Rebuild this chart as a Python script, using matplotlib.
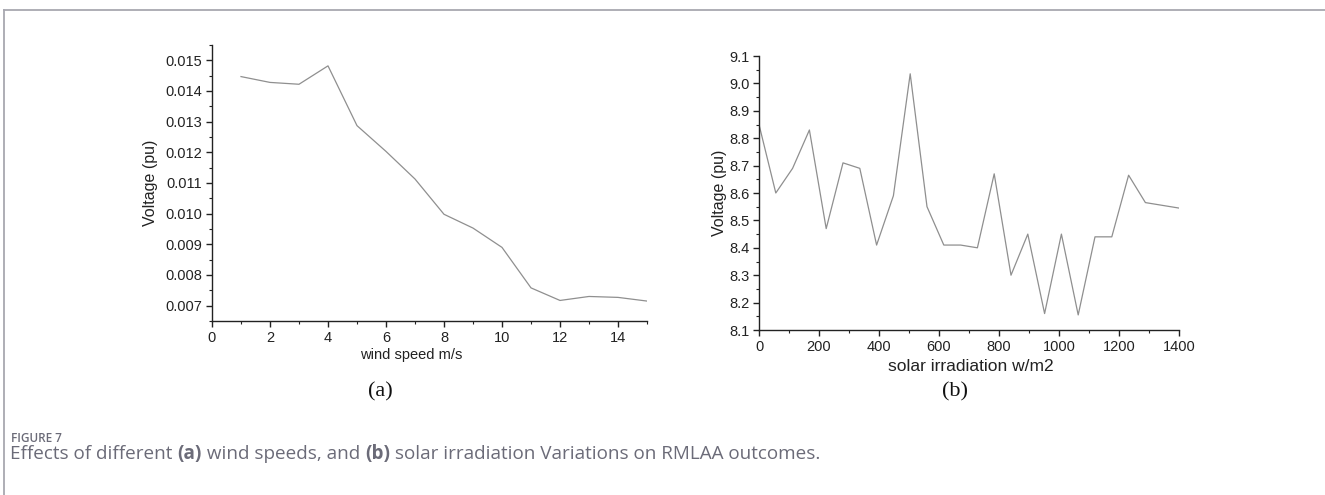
import matplotlib
matplotlib.use("Agg")
import matplotlib.pyplot as plt
from matplotlib.ticker import MultipleLocator, FormatStrFormatter
from matplotlib.lines import Line2D

# ---- data ----
wind_speed = [1, 2, 3, 4, 5, 6, 7, 8, 9, 10, 11, 12, 13, 14, 15]
wind_voltage = [0.01447, 0.01428, 0.01422, 0.01482, 0.01287, 0.01203, 0.01113,
                0.00998, 0.00953, 0.00890, 0.00758, 0.00717, 0.00730, 0.00727, 0.00715]

solar_irr = [0, 56, 112, 168, 224, 280, 336, 392, 448, 504, 560, 616, 672, 728,
             784, 840, 896, 952, 1008, 1064, 1120, 1176, 1232, 1288, 1344, 1400]
solar_voltage = [8.85, 8.60, 8.69, 8.83, 8.47, 8.71, 8.69, 8.41, 8.59, 9.035,
                 8.55, 8.41, 8.41, 8.40, 8.67, 8.30, 8.45, 8.16, 8.45, 8.155,
                 8.44, 8.44, 8.665, 8.565, 8.555, 8.545]

wind_xticks = [0, 2, 4, 6, 8, 10, 12, 14]
wind_yticks = [0.007, 0.008, 0.009, 0.010, 0.011, 0.012, 0.013, 0.014, 0.015]
solar_xticks = [0, 200, 400, 600, 800, 1000, 1200, 1400]
solar_yticks = [8.1, 8.2, 8.3, 8.4, 8.5, 8.6, 8.7, 8.8, 8.9, 9.0, 9.1]

caption_label = "FIGURE 7"
caption_parts = [("Effects of different ", "normal"), ("(a)", "bold"),
                 (" wind speeds, and ", "normal"), ("(b)", "bold"),
                 (" solar irradiation Variations on RMLAA outcomes.", "normal")]

W, H = 1325, 495
fig = plt.figure(figsize=(W / 100, H / 100), dpi=100)
fig.patch.set_facecolor("white")

sans = "Liberation Sans"
line_color = "#8f8f8f"
ink = "#222222"


def fx(px):
    return px / W


def fy(py):
    return 1 - py / H


def style(ax, tsize):
    for s in ["top", "right"]:
        ax.spines[s].set_visible(False)
    for s in ["left", "bottom"]:
        ax.spines[s].set_linewidth(1.0)
        ax.spines[s].set_color(ink)
    ax.tick_params(which="major", direction="out", length=4, width=1.0,
                   labelsize=tsize, colors=ink, pad=3)
    ax.tick_params(which="minor", direction="out", length=2, width=0.8, colors=ink)
    for lab in ax.get_xticklabels() + ax.get_yticklabels():
        lab.set_fontfamily(sans)


# Left panel
ax1 = fig.add_axes([fx(212), fy(321), fx(647 - 212), fy(45) - fy(321)])
ax1.plot(wind_speed, wind_voltage, color=line_color, lw=0.9)
ax1.set_xlim(0, 15)
ax1.set_ylim(0.0065, 0.0155)
ax1.set_xticks(wind_xticks)
ax1.set_yticks(wind_yticks)
ax1.yaxis.set_major_formatter(FormatStrFormatter("%.3f"))
ax1.xaxis.set_minor_locator(MultipleLocator(1))
ax1.yaxis.set_minor_locator(MultipleLocator(0.0005))
style(ax1, 10.5)
ax1.set_xlabel("wind speed m/s", fontsize=10.5, fontfamily=sans, color=ink)
ax1.set_ylabel("Voltage (pu)", fontsize=11.5, fontfamily=sans, color=ink)
ax1.xaxis.set_label_coords(0.457, -0.097)
ax1.yaxis.set_label_coords(-0.123, 0.5)

# Right panel
ax2 = fig.add_axes([fx(759), fy(330), fx(1179 - 759), fy(56) - fy(330)])
ax2.plot(solar_irr, solar_voltage, color=line_color, lw=0.9)
ax2.set_xlim(0, 1400)
ax2.set_ylim(8.1, 9.1)
ax2.set_xticks(solar_xticks)
ax2.set_yticks(solar_yticks)
ax2.yaxis.set_major_formatter(FormatStrFormatter("%.1f"))
ax2.xaxis.set_minor_locator(MultipleLocator(100))
ax2.yaxis.set_minor_locator(MultipleLocator(0.05))
style(ax2, 10.5)
ax2.set_xlabel("solar irradiation w/m2", fontsize=12.5, fontfamily=sans, color=ink)
ax2.set_ylabel("Voltage (pu)", fontsize=11.5, fontfamily=sans, color=ink)
ax2.xaxis.set_label_coords(0.505, -0.105)
ax2.yaxis.set_label_coords(-0.076, 0.5)

# Panel letters
fig.text(fx(380), fy(392), "(a)", fontsize=16, fontfamily="Liberation Serif",
         ha="center", va="center", color="#111111")
fig.text(fx(955), fy(392), "(b)", fontsize=16, fontfamily="Liberation Serif",
         ha="center", va="center", color="#111111")

# Border lines
fig.add_artist(Line2D([fx(4), 1], [fy(9.5), fy(9.5)], transform=fig.transFigure,
                      color="#a8a8b0", lw=1.3))
fig.add_artist(Line2D([fx(4), fx(4)], [fy(9.5), 0], transform=fig.transFigure,
                      color="#a8a8b0", lw=1.3))

# Caption
cap_color = "#6b6b78"
fig.text(fx(11), fy(438), caption_label, fontsize=8.5, fontfamily="Open Sans",
         fontweight="semibold", color=cap_color, va="center", ha="left")

renderer = fig.canvas.get_renderer()
xpos = fx(10)
for txt, wt in caption_parts:
    t = fig.text(xpos, fy(459), txt, fontsize=13.6, fontfamily="Open Sans",
                 color=cap_color, va="baseline", ha="left", fontweight=wt)
    bb = t.get_window_extent(renderer)
    xpos = bb.x1 / W

fig.savefig("out.png", dpi=100, facecolor="white")
